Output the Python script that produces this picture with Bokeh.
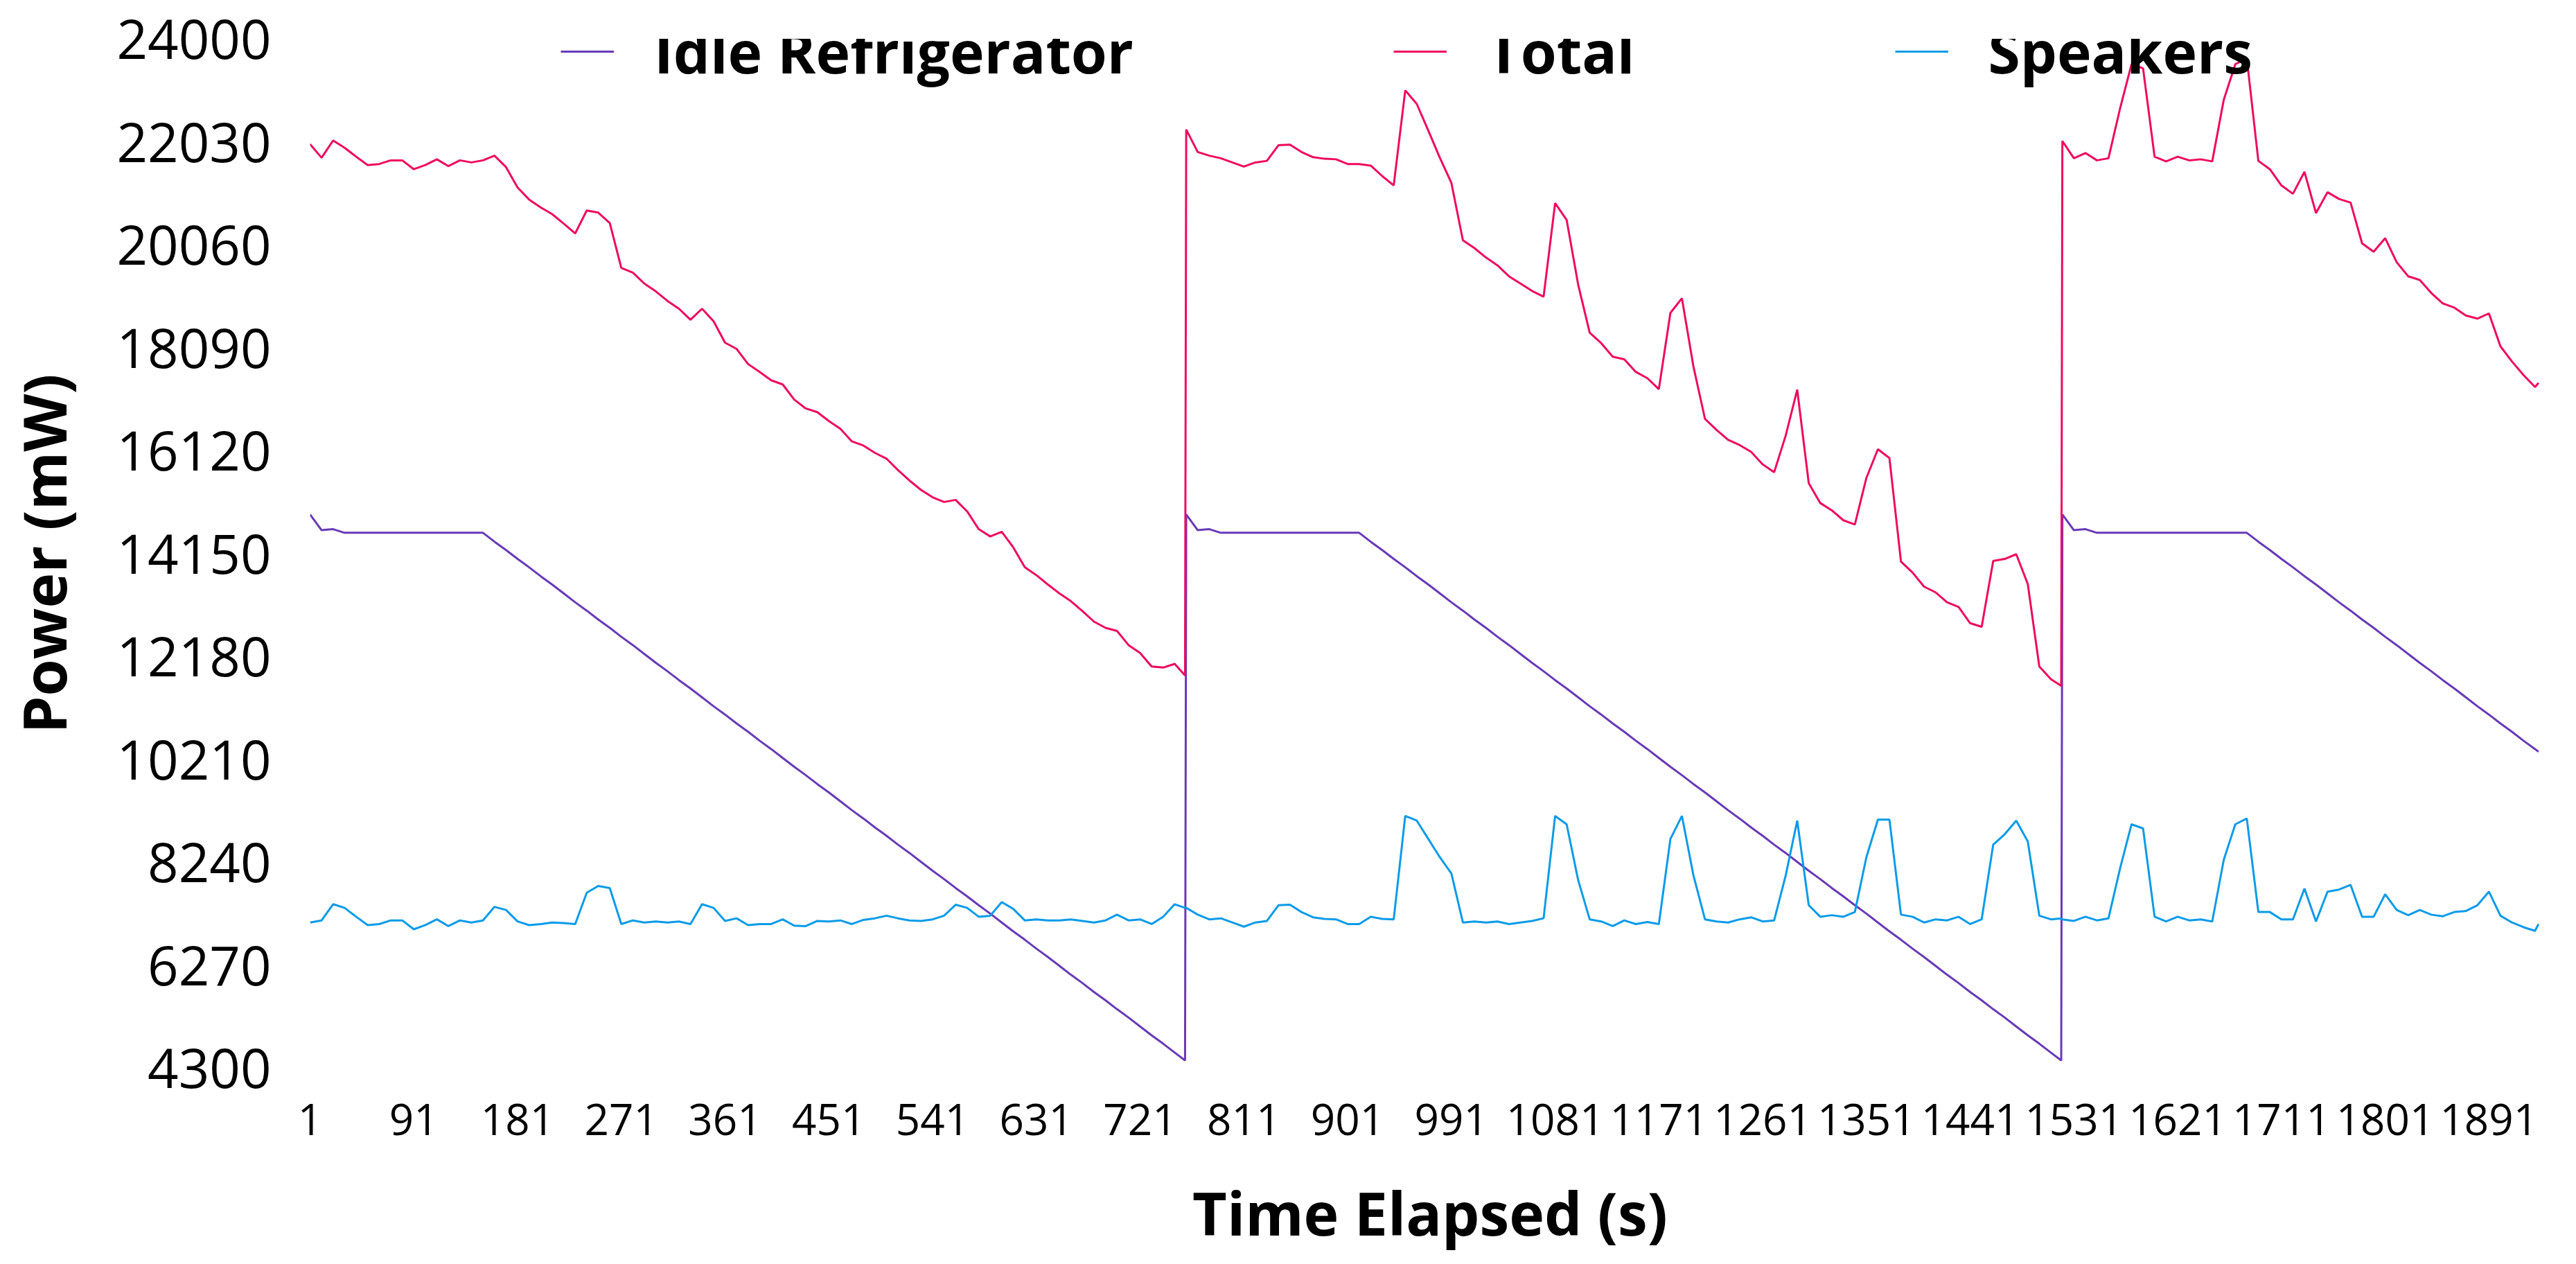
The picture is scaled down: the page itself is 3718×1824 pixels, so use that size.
from bokeh.plotting import figure
from bokeh.models import FixedTicker, Range1d, Legend, LegendItem
from bokeh.embed import file_html
from bokeh.resources import INLINE

time_s = (list(range(1, 752, 10)) + [760] + list(range(761, 1512, 10)) + [1520]
          + list(range(1521, 1932, 10)) + [1934])

fridge_cycle = [14900, 14600, 14620, 14550, 14550, 14550, 14550, 14550, 14550, 14550,
                14550, 14550, 14550, 14550, 14550, 14550, 14380, 14220, 14050, 13890,
                13720, 13560, 13390, 13220, 13060, 12890, 12730, 12560, 12400, 12230,
                12060, 11900, 11730, 11570, 11400, 11230, 11070, 10900, 10740, 10570,
                10410, 10240, 10070, 9910, 9740, 9580, 9410, 9240, 9080, 8910,
                8750, 8580, 8420, 8250, 8080, 7920, 7750, 7590, 7420, 7260,
                7090, 6920, 6760, 6590, 6430, 6260, 6090, 5930, 5760, 5600,
                5430, 5270, 5100, 4930, 4770, 4600, 4450]
fridge_last = [14900, 14600, 14620, 14550, 14550, 14550, 14550, 14550, 14550, 14550,
               14550, 14550, 14550, 14550, 14550, 14550, 14550, 14380, 14220, 14050,
               13890, 13720, 13560, 13390, 13220, 13060, 12890, 12730, 12560, 12400,
               12230, 12060, 11900, 11730, 11570, 11400, 11230, 11070, 10900, 10740,
               10570, 10410, 10360]
refrigerator = fridge_cycle + fridge_cycle + fridge_last

speakers = [7090, 7130, 7440, 7370, 7200, 7040, 7060, 7130, 7130, 6960,
            7040, 7150, 7020, 7130, 7090, 7130, 7390, 7330, 7110, 7040,
            7060, 7090, 7080, 7060, 7660, 7790, 7750, 7060, 7130, 7090,
            7110, 7090, 7110, 7060, 7440, 7370, 7120, 7170, 7040, 7060,
            7060, 7150, 7030, 7020, 7120, 7110, 7130, 7060, 7140, 7170,
            7220, 7170, 7130, 7120, 7150, 7220, 7430, 7370, 7200, 7220,
            7480, 7350, 7130, 7150, 7130, 7130, 7150, 7120, 7090, 7130,
            7240, 7130, 7150, 7060, 7200, 7440, 7370,
            7370, 7240, 7150, 7170, 7090, 7010, 7090, 7120, 7420, 7430,
            7290, 7190, 7160, 7150, 7060, 7060, 7200, 7160, 7150, 9130,
            9040, 8690, 8340, 8030, 7090, 7110, 7090, 7110, 7060, 7090,
            7120, 7170, 9130, 8970, 7900, 7150, 7110, 7020, 7130, 7060,
            7100, 7060, 8690, 9130, 7990, 7150, 7110, 7090, 7150, 7190,
            7110, 7130, 7990, 9040, 7420, 7200, 7230, 7200, 7290, 8340,
            9060, 9060, 7240, 7200, 7090, 7150, 7130, 7200, 7060, 7150,
            8580, 8780, 9040, 8640, 7220, 7150, 7170,
            7150, 7120, 7200, 7130, 7170, 8120, 8970, 8890, 7200, 7110,
            7200, 7130, 7150, 7110, 8290, 8970, 9080, 7290, 7290, 7150,
            7150, 7740, 7110, 7680, 7720, 7810, 7200, 7200, 7630, 7330,
            7230, 7330, 7240, 7210, 7290, 7310, 7420, 7680, 7220, 7090,
            7000, 6930, 7060]

total = [21990, 21730, 22060, 21920, 21750, 21590, 21610, 21680, 21680, 21510,
         21590, 21700, 21570, 21680, 21640, 21680, 21770, 21550, 21160, 20930,
         20780, 20650, 20470, 20280, 20720, 20680, 20480, 19620, 19530, 19320,
         19170, 18990, 18840, 18630, 18840, 18600, 18190, 18070, 17780, 17630,
         17470, 17390, 17100, 16930, 16860, 16690, 16540, 16300, 16220, 16080,
         15970, 15750, 15550, 15370, 15230, 15140, 15180, 14960, 14620, 14480,
         14570, 14270, 13890, 13740, 13560, 13390, 13240, 13050, 12850, 12730,
         12670, 12400, 12250, 11990, 11970, 12040, 11820,
         22270, 21840, 21770, 21720, 21640, 21560, 21640, 21670, 21970, 21980,
         21840, 21740, 21710, 21700, 21610, 21610, 21580, 21380, 21200, 23020,
         22760, 22250, 21730, 21250, 20150, 20000, 19820, 19670, 19460, 19320,
         19180, 19070, 20860, 20540, 19300, 18380, 18180, 17920, 17870, 17630,
         17510, 17300, 18760, 19040, 17730, 16730, 16520, 16330, 16230, 16100,
         15860, 15710, 16410, 17290, 15500, 15120, 14980, 14790, 14710, 15600,
         16150, 15980, 14000, 13790, 13520, 13410, 13220, 13130, 12820, 12750,
         14010, 14050, 14140, 13570, 11990, 11750, 11620,
         22050, 21720, 21820, 21680, 21720, 22670, 23520, 23440, 21750, 21660,
         21750, 21680, 21700, 21660, 22840, 23520, 23630, 21670, 21510, 21200,
         21040, 21460, 20670, 21070, 20940, 20870, 20090, 19930, 20190, 19730,
         19460, 19390, 19140, 18940, 18860, 18710, 18650, 18750, 18120, 17830,
         17570, 17340, 17420]

y_ticks = [4300, 6270, 8240, 10210, 12180, 14150, 16120, 18090, 20060, 22030, 24000]
x_ticks = list(range(1, 1892, 90))

FONT = "Open Sans"
p = figure(width=3700, height=1810, output_backend="svg", toolbar_location=None,
           x_range=Range1d(1, 1944), y_range=Range1d(4300, 24000),
           min_border_left=400, min_border_right=20, min_border_top=56,
           min_border_bottom=258)
p.outline_line_color = None
p.grid.grid_line_color = None
p.background_fill_color = "white"

r1 = p.line(time_s, refrigerator, line_color="#673AB7", line_width=3)
r2 = p.line(time_s, total, line_color="#EE0A5E", line_width=3)
r3 = p.line(time_s, speakers, line_color="#0A9BE8", line_width=3)

for ax in (p.xaxis[0], p.yaxis[0]):
    ax.axis_line_color = None
    ax.major_tick_line_color = None
    ax.minor_tick_line_color = None
    ax.major_label_text_font = FONT
    ax.major_label_text_color = "black"
    ax.axis_label_text_font = FONT
    ax.axis_label_text_font_style = "bold"
    ax.axis_label_text_font_size = "86px"
    ax.axis_label_text_color = "black"

p.xaxis.major_label_text_font_size = "62px"
p.yaxis.major_label_text_font_size = "78px"
p.xaxis.ticker = FixedTicker(ticks=x_ticks)
p.yaxis.ticker = FixedTicker(ticks=y_ticks)
p.xaxis.major_label_standoff = 45
p.yaxis.major_label_standoff = 50
p.xaxis.axis_label = "Time Elapsed (s)"
p.yaxis.axis_label = "Power (mW)"
p.xaxis.axis_label_standoff = 50
p.yaxis.axis_label_standoff = 45

legend = Legend(items=[LegendItem(label="Idle Refrigerator", renderers=[r1]),
                       LegendItem(label="Total", renderers=[r2]),
                       LegendItem(label="Speakers", renderers=[r3])],
                orientation="horizontal", location=(362, 1410),
                spacing=375, glyph_width=77, glyph_height=60, label_standoff=58,
                padding=0, margin=0, border_line_color=None,
                background_fill_alpha=0,
                label_text_font=FONT, label_text_font_style="bold",
                label_text_font_size="84px", label_text_color="black")
p.add_layout(legend, "center")

open("out.html", "w").write(file_html(p, INLINE))
